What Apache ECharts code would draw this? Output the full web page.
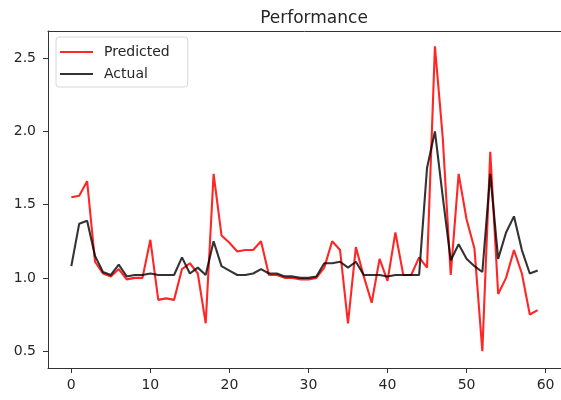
<!DOCTYPE html>
<html>
<head>
<meta charset="utf-8">
<script src="https://cdn.jsdelivr.net/npm/echarts@6/dist/echarts.min.js"></script>
<style>
  html, body { margin: 0; padding: 0; background: #fff; }
  #chart { width: 561px; height: 400px; }
</style>
</head>
<body>
<div id="chart"></div>
<script>
// Model output vs. observed values, one sample per step
const steps = Array.from({ length: 60 }, (_, i) => i);

const predicted = [
  1.55, 1.56, 1.66, 1.11, 1.03, 1.01, 1.06, 0.99, 1.00, 1.00,
  1.26, 0.85, 0.86, 0.85, 1.06, 1.10, 1.03, 0.69, 1.71, 1.29,
  1.24, 1.18, 1.19, 1.19, 1.25, 1.02, 1.02, 1.00, 1.00, 0.99,
  0.99, 1.00, 1.07, 1.25, 1.19, 0.69, 1.21, 1.01, 0.83, 1.13,
  0.98, 1.31, 1.02, 1.02, 1.14, 1.07, 2.58, 1.95, 1.02, 1.71,
  1.40, 1.20, 0.50, 1.86, 0.89, 1.00, 1.19, 1.03, 0.75, 0.78
];

const actual = [
  1.08, 1.37, 1.39, 1.15, 1.04, 1.02, 1.09, 1.01, 1.02, 1.02,
  1.03, 1.02, 1.02, 1.02, 1.14, 1.03, 1.07, 1.02, 1.25, 1.08,
  1.05, 1.02, 1.02, 1.03, 1.06, 1.03, 1.03, 1.01, 1.01, 1.00,
  1.00, 1.01, 1.10, 1.10, 1.11, 1.07, 1.11, 1.02, 1.02, 1.02,
  1.01, 1.02, 1.02, 1.02, 1.02, 1.75, 2.00, 1.55, 1.12, 1.23,
  1.13, 1.08, 1.04, 1.71, 1.13, 1.31, 1.42, 1.19, 1.03, 1.05
];

const xTicks = [0, 10, 20, 30, 40, 50, 60];
const yTicks = [0.5, 1.0, 1.5, 2.0, 2.5];

const FONT = 'DejaVu Sans';
const TEXT = '#262626';
const SPINE = '#333';
const X_MIN = -2.95, X_MAX = 61.95;

const chart = echarts.init(document.getElementById('chart'), null, { renderer: 'canvas' });

chart.setOption({
  animation: false,
  backgroundColor: '#fff',
  title: {
    text: 'Performance',
    left: 309,
    textAlign: 'center',
    top: 5,
    textStyle: { fontFamily: FONT, fontSize: 17, fontWeight: 'normal', color: TEXT }
  },
  legend: {
    orient: 'vertical',
    left: 56,
    top: 37,
    padding: [8, 18, 6, 4],
    itemGap: 8,
    itemWidth: 33,
    itemHeight: 2,
    icon: 'rect',
    borderColor: '#d6d6d6',
    borderWidth: 1,
    borderRadius: 3,
    backgroundColor: 'rgba(255,255,255,0.8)',
    textStyle: { fontFamily: FONT, fontSize: 14, color: TEXT, padding: [0, 0, 0, 6] },
    data: ['Predicted', 'Actual']
  },
  grid: {
    left: 48,
    top: 31,
    right: -7,
    bottom: 32
  },
  xAxis: [
    {
      type: 'value',
      position: 'bottom',
      min: X_MIN,
      max: X_MAX,
      splitLine: { show: false },
      axisLine: { show: true, onZero: false, lineStyle: { color: SPINE, width: 1 } },
      axisTick: { show: true, customValues: xTicks, length: 5, lineStyle: { color: SPINE } },
      axisLabel: {
        customValues: xTicks,
        margin: 10,
        fontFamily: FONT, fontSize: 14, color: TEXT,
        formatter: v => String(Math.round(v))
      }
    },
    {
      // top spine only
      type: 'value',
      position: 'top',
      min: X_MIN,
      max: X_MAX,
      splitLine: { show: false },
      axisLine: { show: true, onZero: false, lineStyle: { color: SPINE, width: 1 } },
      axisTick: { show: false },
      axisLabel: { show: false }
    }
  ],
  yAxis: {
    type: 'value',
    min: 0.385,
    max: 2.685,
    splitLine: { show: false },
    axisLine: { show: true, onZero: false, lineStyle: { color: SPINE, width: 1 } },
    axisTick: { show: true, customValues: yTicks, length: 5, lineStyle: { color: SPINE } },
    axisLabel: {
      customValues: yTicks,
      margin: 12,
      fontFamily: FONT, fontSize: 14, color: TEXT,
      formatter: v => v.toFixed(1)
    }
  },
  series: [
    {
      name: 'Predicted',
      type: 'line',
      xAxisIndex: 0,
      data: steps.map((x, i) => [x, predicted[i]]),
      showSymbol: false,
      color: 'rgba(255,0,0,0.85)',
      lineStyle: { width: 2.1, color: 'rgba(255,0,0,0.85)' },
      itemStyle: { color: 'rgba(255,0,0,0.85)' }
    },
    {
      name: 'Actual',
      type: 'line',
      xAxisIndex: 0,
      data: steps.map((x, i) => [x, actual[i]]),
      showSymbol: false,
      color: 'rgba(0,0,0,0.8)',
      lineStyle: { width: 2.1, color: 'rgba(0,0,0,0.8)' },
      itemStyle: { color: 'rgba(0,0,0,0.8)' }
    }
  ]
});
</script>
</body>
</html>
